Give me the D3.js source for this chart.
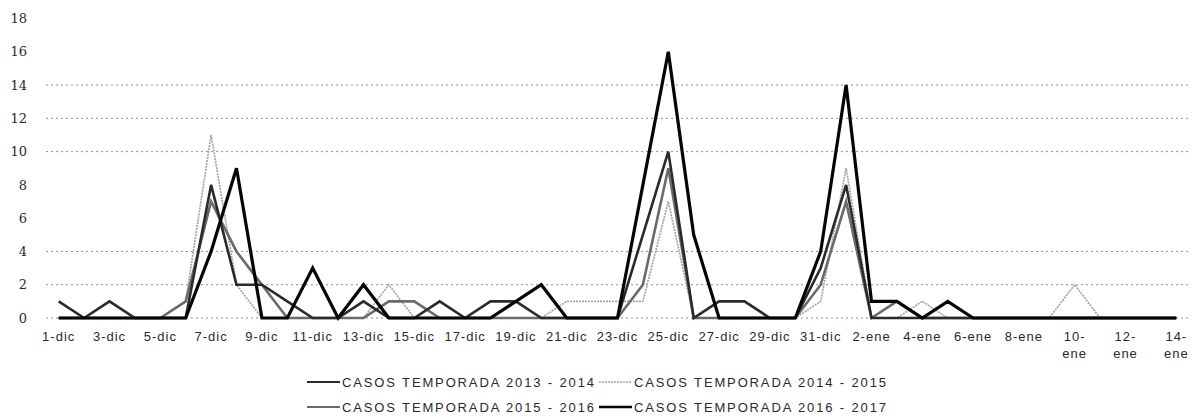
<!DOCTYPE html>
<html>
<head>
<meta charset="utf-8">
<script src="https://cdn.jsdelivr.net/npm/d3@7"></script>
<style>
  body { margin: 0; background: #fff; }
  svg { display: block; }
</style>
</head>
<body>
<svg id="chart"></svg>
<script>
// categories: one per day, 1-dic .. 14-ene
const days = [
  "1-dic","2-dic","3-dic","4-dic","5-dic","6-dic","7-dic","8-dic","9-dic","10-dic",
  "11-dic","12-dic","13-dic","14-dic","15-dic","16-dic","17-dic","18-dic","19-dic","20-dic",
  "21-dic","22-dic","23-dic","24-dic","25-dic","26-dic","27-dic","28-dic","29-dic","30-dic",
  "31-dic","1-ene","2-ene","3-ene","4-ene","5-ene","6-ene","7-ene","8-ene","9-ene",
  "10-ene","11-ene","12-ene","13-ene","14-ene"
];

const casos2013 = [1,0,1,0,0,0,8,2,2,1, 0,0,1,0,0,1,0,1,1,0, 0,0,0,5,10,0,1,1,0,0, 3, 8,0,0,0,0,0,0,0,0,0,0,0,0,0];
const casos2014 = [0,0,0,0,0,1,11,2,0,0, 0,0,0,2,0,0,0,0,0,0, 1,1,1,1,7,0,0,0,0,0, 1, 9,0,0,1,0,0,0,0,0,2,0,0,0,0];
const casos2015 = [0,0,0,0,0,1,7,4,2,0, 0,0,0,1,1,0,0,0,0,0, 0,0,0,2,9,0,0,0,0,0, 2, 7,0,1,0,0,0,0,0,0,0,0,0,0,0];
const casos2016 = [0,0,0,0,0,0,4,9,0,0, 3,0,2,0,0,0,0,0,1,2, 0,0,0,8,16,5,0,0,0,0, 4, 14,1,1,0,1,0,0,0,0,0,0,0,0,0];

const seriesNames = [
  "CASOS TEMPORADA 2013 - 2014",
  "CASOS TEMPORADA 2014 - 2015",
  "CASOS TEMPORADA 2015 - 2016",
  "CASOS TEMPORADA 2016 - 2017"
];

const yTicks = [0,2,4,6,8,10,12,14,16,18];
const gridValues = [0,2,4,10,12,14]; // the ones that survive in the scan
const xTickLabels = days.filter((d, i) => i % 2 === 0);
const wrapped = ["10-ene","12-ene","14-ene"];

const width = 1192, height = 419;

const svg = d3.select("#chart")
  .attr("width", width)
  .attr("height", height);

const x = d3.scaleBand()
  .domain(days)
  .range([46, 1189])
  .padding(0);

const y = d3.scaleLinear()
  .domain([0, 18])
  .range([318, 18.5]);

const cx = d => x(d) + x.bandwidth() / 2;

// dotted grid
svg.append("g")
  .selectAll("line")
  .data(gridValues)
  .enter()
  .append("line")
  .attr("x1", 46)
  .attr("x2", 1189)
  .attr("y1", d => y(d))
  .attr("y2", d => y(d))
  .attr("stroke", "#8e8e8e")
  .attr("stroke-width", 1)
  .attr("stroke-dasharray", "2,3");

// Y axis
svg.append("g")
  .attr("transform", "translate(27,0)")
  .call(d3.axisLeft(y).tickValues(yTicks).tickSize(0).tickPadding(0))
  .call(g => g.select(".domain").remove())
  .selectAll("text")
  .attr("font-family", "DejaVu Serif")
  .attr("font-size", 13)
  .attr("fill", "#2a2a2a");

// X axis
const xAxis = svg.append("g")
  .attr("transform", "translate(0,318)")
  .call(d3.axisBottom(x).tickValues(xTickLabels).tickSize(0).tickPadding(14));

xAxis.select(".domain").remove();

xAxis.selectAll("text")
  .attr("font-family", "Liberation Sans")
  .attr("font-size", 13)
  .attr("letter-spacing", "1px")
  .attr("fill", "#2a2a2a")
  .each(function (d) {
    if (wrapped.includes(d)) {
      const t = d3.select(this);
      const parts = d.split("-");
      t.text(null);
      t.append("tspan").attr("x", 0).text(parts[0] + "-");
      t.append("tspan").attr("x", 0).attr("dy", "1.3em").text(parts[1]);
    }
  });

// series
const series = [
  { name: seriesNames[1], values: casos2014, color: "#a4a4a4", width: 1.7, dash: "2,1" },
  { name: seriesNames[2], values: casos2015, color: "#6a6a6a", width: 2.6, dash: null },
  { name: seriesNames[0], values: casos2013, color: "#2a2a2a", width: 2.6, dash: null },
  { name: seriesNames[3], values: casos2016, color: "#050505", width: 3.2, dash: null }
];

const line = d3.line()
  .x((d, i) => cx(days[i]))
  .y(d => y(d));

svg.append("g")
  .selectAll("path")
  .data(series)
  .enter()
  .append("path")
  .attr("d", d => line(d.values))
  .attr("fill", "none")
  .attr("stroke", d => d.color)
  .attr("stroke-width", d => d.width)
  .attr("stroke-dasharray", d => d.dash)
  .attr("stroke-linejoin", "miter");

// legend, two rows of two
const legendItems = [
  { name: seriesNames[0], color: "#2a2a2a", width: 2.2, dash: null, col: 0, row: 0 },
  { name: seriesNames[1], color: "#a4a4a4", width: 1.6, dash: "2,1", col: 1, row: 0 },
  { name: seriesNames[2], color: "#6a6a6a", width: 2.2, dash: null, col: 0, row: 1 },
  { name: seriesNames[3], color: "#050505", width: 2.4, dash: null, col: 1, row: 1 }
];

const legend = svg.append("g")
  .selectAll("g")
  .data(legendItems)
  .enter()
  .append("g")
  .attr("transform", d => `translate(${307 + d.col * 292}, ${382 + d.row * 25})`);

legend.append("line")
  .attr("x1", 0)
  .attr("x2", 33)
  .attr("stroke", d => d.color)
  .attr("stroke-width", d => d.width)
  .attr("stroke-dasharray", d => d.dash);

legend.append("text")
  .attr("x", 35)
  .attr("dy", "0.35em")
  .attr("font-family", "Liberation Sans")
  .attr("font-size", 13)
  .attr("textLength", 252)
  .attr("lengthAdjust", "spacing")
  .attr("fill", "#2a2a2a")
  .text(d => d.name);
</script>
</body>
</html>
